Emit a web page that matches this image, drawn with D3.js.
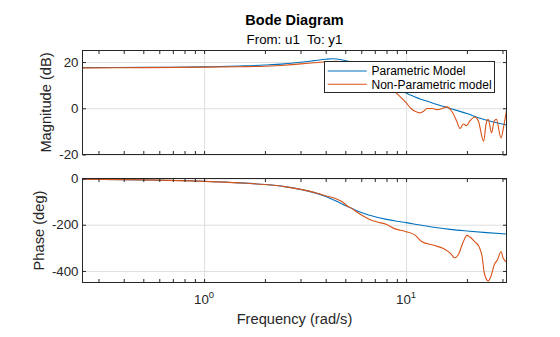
<!DOCTYPE html>
<html><head><meta charset="utf-8">
<script src="https://cdn.jsdelivr.net/npm/d3@7"></script>
<style>
body{margin:0;background:#fff;}
svg{display:block;font-family:"Liberation Sans",Arial,Helvetica,sans-serif;}
</style></head><body>
<svg id="c" width="560" height="337"></svg>
<script>
// ---- data ----
const paramMagFreq = [0.25,0.5,1,1.5,2,2.5,3,3.5,4,4.3,4.85,5.5,6,7,8,9,10,11,13.6,16.4,20,23.2,27,31.4];
const paramMag     = [17.6,17.7,17.9,18.3,18.7,19.2,19.9,20.6,21.2,21.4,20.9,19.6,18.2,15,11.8,9,6.6,5,2.2,0,-2.3,-4.3,-5.9,-7.2];
const nonparMagFreq = [0.25,0.5,1,1.5,2,2.5,3,3.5,4,4.5,5,6,7,8,8.85,9.5,10,10.6,11.3,11.7,12.2,12.7,13.5,14.2,15.1,15.9,16.8,17.8,18.5,19.2,19.9,20.7,21.9,22.8,24.2,24.9,25.5,26.5,27.3,28.0,29.5,30.4,31.4];
const nonparMag     = [17.5,17.6,17.8,18.0,18.2,18.6,19.2,19.7,20.1,20.3,19.8,17.2,13.8,10.2,7.0,4.4,2.4,-0.2,-1.6,-2.0,-1.3,-0.1,-0.1,-0.6,-0.1,0.6,-1.2,-5.5,-8.7,-6.8,-7.5,-5.5,-3.8,-5.5,-14.2,-6.8,-4.8,-10.6,-5.5,-4.8,-12.8,-8,-1.0];
const paramPhaseFreq = [0.25,0.5,1,1.5,2,2.5,3,3.5,4,4.5,5.07,5.5,5.9,6.6,8,9,10,11.5,13.7,16.5,20,25,31.4];
const paramPhase     = [-3,-6,-12,-19,-26,-35,-47,-61,-78,-97,-119,-133,-145,-159,-177,-185,-191,-200,-211,-220,-227,-234,-240];
const nonparPhaseFreq = [0.25,0.5,1,1.5,2,2.5,3,3.5,4,4.5,4.87,5.1,5.3,5.9,6.6,7.2,8,8.82,10,11,12,13.7,15.3,16.6,17.4,18.1,19.2,20,20.7,21.9,23,23.8,24.4,25.5,26.3,27.3,28.3,29.5,30.3,31.4];
const nonparPhase     = [-3,-6,-12.5,-19,-26,-35,-47,-60,-75,-88,-103,-118,-126,-154,-177,-188,-199,-218,-230,-243,-274,-289,-303,-324,-343,-331,-274,-246,-253,-274,-296,-339,-410,-443,-424,-374,-353,-317,-346,-360];

const magTicks = [-20, 0, 20];
const phaseTicks = [-400, -200, 0];
const freqMajor = [1, 10];
const freqMinor = [0.3,0.4,0.5,0.6,0.7,0.8,0.9,2,3,4,5,6,7,8,9,20,30];
const freqTickLabels = [{base:"10", exp:"0"}, {base:"10", exp:"1"}];
const seriesNames = ["Parametric Model", "Non-Parametric model"];
const colors = ["#0072BD", "#D95319"];

// ---- layout ----
const L = 82.5, R = 506.5;
const T1 = 50.5, B1 = 154.5, T2 = 178.5, B2 = 282.5;
const axisCol = "#262626", gridCol = "#dfdfdf";
const tickLen = 3.5;

const svg = d3.select("#c");
const x = d3.scaleLog().domain([0.25, 31.416]).range([L, R]);
const yMag = d3.scaleLinear().domain([-20, 25]).range([B1, T1]);
const yPh = d3.scaleLinear().domain([-450, 0]).range([B2, T2]);

const defs = svg.append("defs");
defs.append("clipPath").attr("id","clip1").append("rect").attr("x",L).attr("y",T1).attr("width",R-L).attr("height",B1-T1);
defs.append("clipPath").attr("id","clip2").append("rect").attr("x",L).attr("y",T2).attr("width",R-L).attr("height",B2-T2);

function panel(y, top, bot, yTicks, clipId, series) {
  const g = svg.append("g");
  const gx = g.append("g").attr("transform",`translate(0,${bot})`)
    .call(d3.axisBottom(x).tickValues(freqMajor).tickSize(-(bot-top)).tickFormat(""));
  const gy = g.append("g").attr("transform",`translate(${L},0)`)
    .call(d3.axisLeft(y).tickValues(yTicks).tickSize(-(R-L)).tickFormat(""));
  [gx, gy].forEach(a => { a.select(".domain").remove(); a.selectAll("line").attr("stroke", gridCol).attr("stroke-width",1); });
  const line = d3.line().x(d => x(d[0])).y(d => y(d[1])).curve(d3.curveMonotoneX);
  const cg = g.append("g").attr("clip-path",`url(#${clipId})`);
  series.forEach((s, i) => {
    cg.append("path").datum(d3.zip(s[0], s[1])).attr("d", line)
      .attr("fill","none").attr("stroke", colors[i]).attr("stroke-width",1.1);
  });
  g.append("rect").attr("x",L).attr("y",top).attr("width",R-L).attr("height",bot-top)
    .attr("fill","none").attr("stroke",axisCol).attr("stroke-width",1);
  const allX = freqMajor.concat(freqMinor);
  const tb = g.append("g").attr("transform",`translate(0,${bot})`)
    .call(d3.axisBottom(x).tickValues(allX).tickSize(-tickLen).tickFormat(""));
  const tt = g.append("g").attr("transform",`translate(0,${top})`)
    .call(d3.axisTop(x).tickValues(allX).tickSize(-tickLen).tickFormat(""));
  const tl = g.append("g").attr("transform",`translate(${L},0)`)
    .call(d3.axisLeft(y).tickValues(yTicks).tickSize(-tickLen).tickFormat(""));
  const tr = g.append("g").attr("transform",`translate(${R},0)`)
    .call(d3.axisRight(y).tickValues(yTicks).tickSize(-tickLen).tickFormat(""));
  [tb, tt, tl, tr].forEach(a => { a.select(".domain").remove(); a.selectAll("line").attr("stroke", axisCol); });
  g.selectAll(".yl").data(yTicks).enter().append("text")
    .attr("x", L - 4).attr("y", d => y(d)).attr("dy","0.35em")
    .attr("text-anchor","end").attr("font-size","13.3px").attr("fill",axisCol)
    .text(d => d);
  return g;
}

panel(yMag, T1, B1, magTicks, "clip1", [[paramMagFreq, paramMag],[nonparMagFreq, nonparMag]]);
panel(yPh, T2, B2, phaseTicks, "clip2", [[paramPhaseFreq, paramPhase],[nonparPhaseFreq, nonparPhase]]);

freqMajor.forEach((f, i) => {
  const t = svg.append("text").attr("x", x(f)).attr("y", 304).attr("text-anchor","middle")
    .attr("font-size","13.3px").attr("fill",axisCol);
  t.append("tspan").text(freqTickLabels[i].base);
  t.append("tspan").attr("dy","-6").attr("font-size","9.5px").text(freqTickLabels[i].exp);
});

const cx = (L + R) / 2;
svg.append("text").attr("x",cx).attr("y",24.5).attr("text-anchor","middle")
  .attr("font-size","14.5px").attr("font-weight","bold").attr("fill","#000").text("Bode Diagram");
svg.append("text").attr("x",cx).attr("y",44).attr("text-anchor","middle")
  .attr("font-size","13.3px").attr("fill","#000").style("white-space","pre").text("From: u1  To: y1");
svg.append("text").attr("x",cx).attr("y",324.3).attr("text-anchor","middle")
  .attr("font-size","14.67px").attr("fill",axisCol).text("Frequency (rad/s)");
svg.append("text").attr("transform",`translate(50.5,${(T1+B1)/2}) rotate(-90)`).attr("text-anchor","middle")
  .attr("font-size","14.67px").attr("fill",axisCol).text("Magnitude (dB)");
svg.append("text").attr("transform",`translate(44,${(T2+B2)/2}) rotate(-90)`).attr("text-anchor","middle")
  .attr("font-size","14.67px").attr("fill",axisCol).text("Phase (deg)");

const lg = svg.append("g");
lg.append("rect").attr("x",324.5).attr("y",61.5).attr("width",170).attr("height",31)
  .attr("fill","#fff").attr("stroke",axisCol).attr("stroke-width",1);
seriesNames.forEach((n, i) => {
  const yy = 71 + i * 13.3;
  lg.append("line").attr("x1",327.7).attr("x2",366.7).attr("y1",yy).attr("y2",yy)
    .attr("stroke",colors[i]).attr("stroke-width",1.1);
  lg.append("text").attr("x",371.5).attr("y",yy).attr("dy","0.35em")
    .attr("font-size","12px").attr("fill","#000").text(n);
});
</script>
</body></html>
